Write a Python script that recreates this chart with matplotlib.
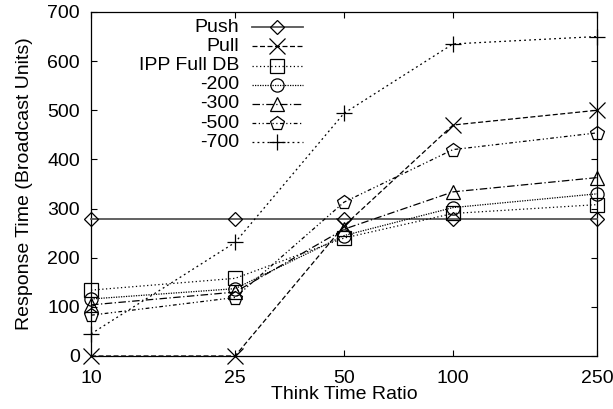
import numpy as np
import matplotlib
matplotlib.use("Agg")
import matplotlib.pyplot as plt

plt.rcParams['font.family'] = ['Liberation Sans', 'DejaVu Sans']

ratio = [10, 25, 50, 100, 250]
push = [278, 278, 278, 278, 278]
pull = [0, 0, 265, 470, 500]
ipp_full = [134, 158, 240, 290, 308]
ipp_200 = [116, 137, 245, 302, 330]
ipp_300 = [104, 130, 258, 334, 363]
ipp_500 = [83, 119, 313, 420, 454]
ipp_700 = [45, 231, 494, 635, 650]

names = ['Push', 'Pull', 'IPP Full DB', '-200', '-300', '-500', '-700']
series = [push, pull, ipp_full, ipp_200, ipp_300, ipp_500, ipp_700]
markers = ['D', 'x', 's', 'o', '^', 'p', '+']
msizes = [7, 11.5, 9.5, 9.5, 9.5, 10, 11]
styles = ['-', (0, (4, 2)), (0, (1, 2)), (0, (1, 1)), (0, (6, 2, 1, 2)),
          (0, (3, 2, 1, 2, 1, 2)), (0, (1.5, 2.5))]
colors = ['#555555', 'k', 'k', 'k', 'k', 'k', 'k']
widths = [1.3, 0.9, 0.9, 0.9, 0.9, 0.9, 0.9]
fs = 14

fig = plt.figure(figsize=(6.13, 4.09), dpi=100)
ax = fig.add_axes([0.1485, 0.1296, 0.8255, 0.8411])

for i in range(len(series)):
    ax.plot(ratio, series[i], linestyle=styles[i], color=colors[i], lw=widths[i],
            marker=markers[i], ms=msizes[i], mfc='none', mec='k', mew=0.9,
            clip_on=False, zorder=3)

ax.set_xscale('log')
ax.set_xlim(10, 250)
ax.set_ylim(0, 700)
ax.set_xticks(ratio)
ax.set_xticklabels([str(r) for r in ratio])
ax.minorticks_off()
ax.set_yticks(np.arange(0, 701, 100))
ax.tick_params(direction='in', top=True, right=True, labelsize=fs, length=4, width=0.8)
ax.tick_params(axis='x', pad=10)
ax.tick_params(axis='y', pad=8)
ax.set_xlabel('Think Time Ratio', fontsize=fs)
ax.set_ylabel('Response Time (Broadcast Units)', fontsize=fs)
ax.xaxis.set_label_coords(0.5, -0.088)
ax.yaxis.set_label_coords(-0.115, 0.5)
for s in ax.spines.values():
    s.set_linewidth(0.9)

# legend, gnuplot style: label on the left, sample on the right
for i in range(len(names)):
    yy = 0.956 - i * 0.0558
    ax.text(0.2925, yy, names[i], transform=ax.transAxes, ha='right', va='center', fontsize=fs)
    ax.plot([0.318, 0.419], [yy, yy], transform=ax.transAxes, linestyle=styles[i],
            color=colors[i], lw=widths[i], clip_on=False)
    ax.plot([0.368], [yy], transform=ax.transAxes, marker=markers[i], ms=msizes[i],
            mfc='none', mec='k', mew=0.9, clip_on=False)

fig.savefig('out.png', dpi=100)
